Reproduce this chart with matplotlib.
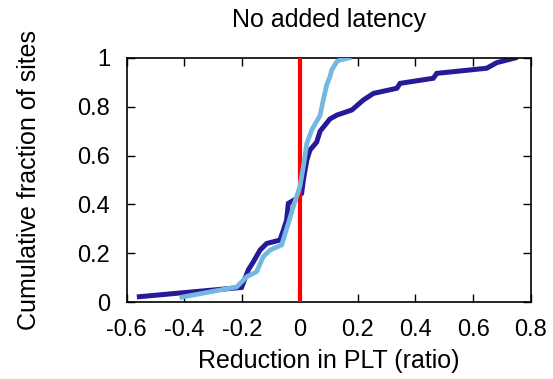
import matplotlib
matplotlib.use("Agg")
import matplotlib.pyplot as plt

# CDF of per-site PLT reduction, no added latency
dark_x = [-0.556, -0.202, -0.179, -0.161, -0.138, -0.115, -0.069, -0.057, -0.046,
          -0.040, -0.011, 0.006, 0.012, 0.024, 0.035, 0.058, 0.070, 0.104, 0.128,
          0.180, 0.220, 0.255, 0.336, 0.347, 0.462, 0.474, 0.647, 0.682, 0.745]
dark_y = [0.022, 0.060, 0.131, 0.165, 0.213, 0.240, 0.254, 0.295, 0.336,
          0.404, 0.425, 0.445, 0.500, 0.582, 0.623, 0.655, 0.700, 0.750, 0.766,
          0.787, 0.828, 0.855, 0.876, 0.896, 0.917, 0.937, 0.958, 0.981, 1.000]

light_x = [-0.409, -0.219, -0.184, -0.150, -0.127, -0.103, -0.063, -0.051, -0.040,
           -0.023, 0.000, 0.012, 0.024, 0.041, 0.070, 0.081, 0.093, 0.104, 0.110,
           0.128, 0.139, 0.170]
light_y = [0.020, 0.062, 0.104, 0.124, 0.186, 0.213, 0.234, 0.281, 0.322,
           0.390, 0.473, 0.555, 0.650, 0.705, 0.765, 0.828, 0.890, 0.923, 0.950,
           0.985, 0.992, 1.000]

zero_x = 0.0

xticks = [-0.6, -0.4, -0.2, 0, 0.2, 0.4, 0.6, 0.8]
xtick_labels = ["-0.6", "-0.4", "-0.2", "0", "0.2", "0.4", "0.6", "0.8"]
yticks = [0, 0.2, 0.4, 0.6, 0.8, 1]
ytick_labels = ["0", "0.2", "0.4", "0.6", "0.8", "1"]

plt.rcParams["font.family"] = ["Liberation Sans", "DejaVu Sans"]

fig = plt.figure(figsize=(5.53, 3.79), dpi=100)
ax = fig.add_axes([0.229, 0.203, 0.731, 0.644])

ax.plot(dark_x, dark_y, color="#261a98", linewidth=3.6, zorder=2,
        solid_joinstyle="miter")
ax.axvline(zero_x, color="#ff0000", linewidth=3.0, zorder=3)
ax.plot(light_x, light_y, color="#74b8e0", linewidth=3.4, zorder=4,
        solid_joinstyle="miter")

ax.set_xlim(-0.6, 0.8)
ax.set_ylim(0, 1)
ax.set_xticks(xticks)
ax.set_xticklabels(xtick_labels)
ax.set_yticks(yticks)
ax.set_yticklabels(ytick_labels)
ax.tick_params(direction="in", length=6, width=1, top=True, right=True,
               labelsize=17)
ax.tick_params(axis="x", pad=12)
ax.tick_params(axis="y", pad=12)
for s in ax.spines.values():
    s.set_linewidth(1.2)

ax.set_xlabel("Reduction in PLT (ratio)", fontsize=18, labelpad=6)
ax.set_ylabel("Cumulative fraction of sites", fontsize=18, labelpad=26)
ax.set_title("No added latency", fontsize=18, pad=22)

fig.savefig("out.png", dpi=100)
